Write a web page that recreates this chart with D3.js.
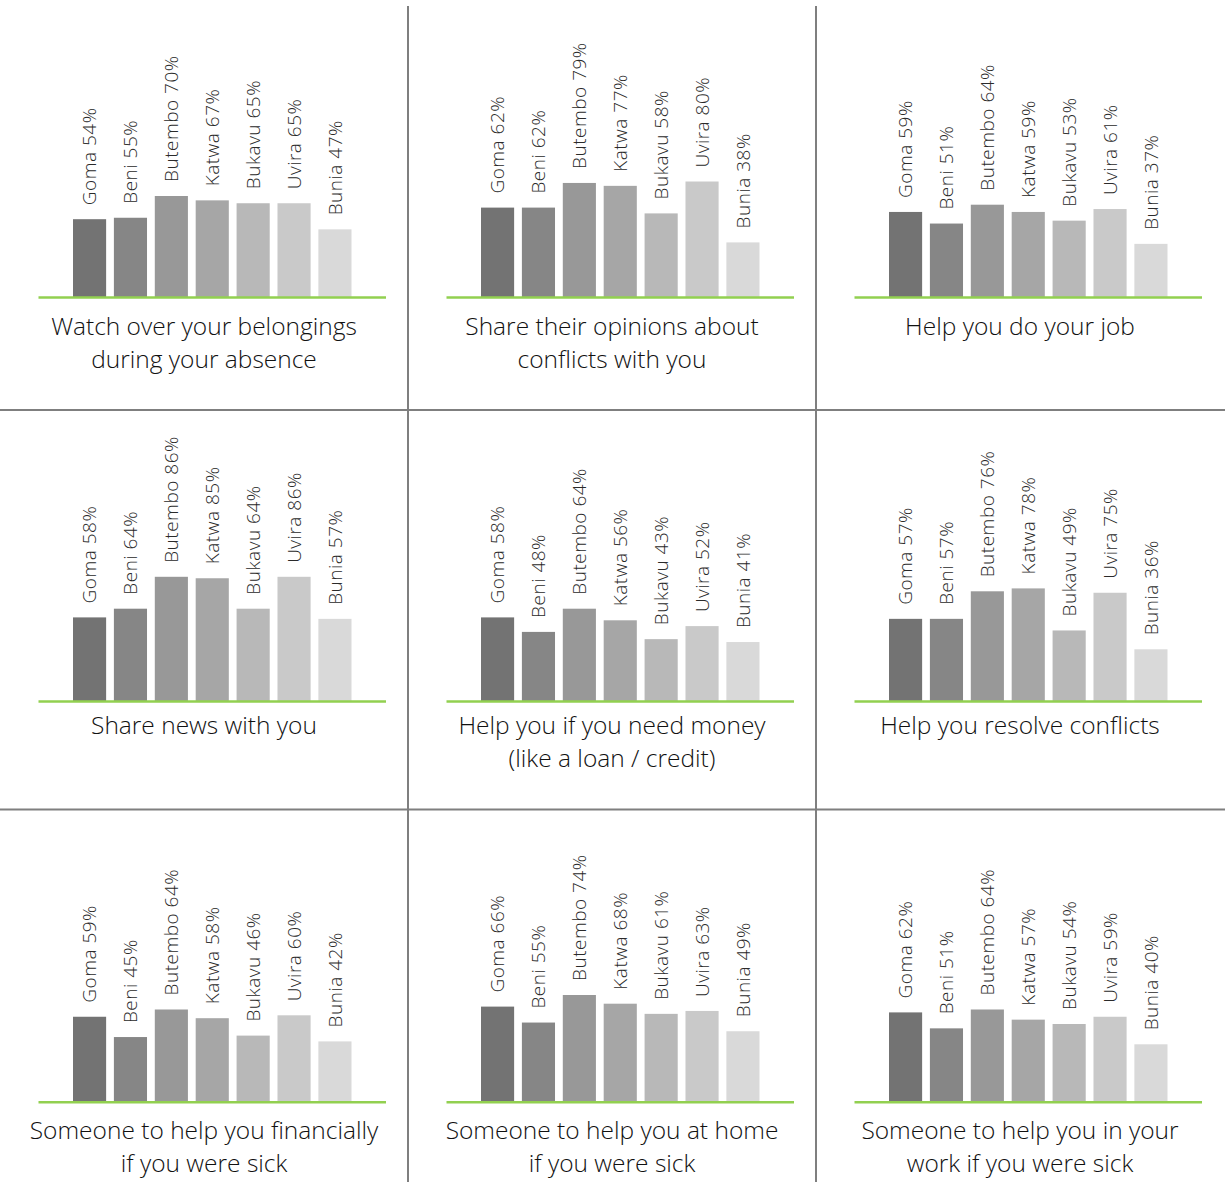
<!DOCTYPE html>
<html>
<head>
<meta charset="utf-8">
<script src="https://cdn.jsdelivr.net/npm/d3@7"></script>
<style>
  html, body { margin: 0; padding: 0; background: #ffffff; }
  svg { display: block; }
  .bar-label { font-family: "Open Sans", "Noto Sans", sans-serif; font-weight: 300; font-size: 19px; letter-spacing: 0.5px; fill: #2a2a2a; }
  .panel-title { font-family: "Open Sans", "Noto Sans", sans-serif; font-weight: 300; font-size: 24.5px; fill: #111111; }
</style>
</head>
<body>
<script>
// Cities surveyed
const cities = ["Goma", "Beni", "Butembo", "Katwa", "Bukavu", "Uvira", "Bunia"];

// Share (%) of respondents, per city, for each type of help
const watchBelongings   = [54, 55, 70, 67, 65, 65, 47];
const shareOpinions     = [62, 62, 79, 77, 58, 80, 38];
const helpJob           = [59, 51, 64, 59, 53, 61, 37];
const shareNews         = [58, 64, 86, 85, 64, 86, 57];
const helpMoney         = [58, 48, 64, 56, 43, 52, 41];
const resolveConflicts  = [57, 57, 76, 78, 49, 75, 36];
const sickFinancially   = [59, 45, 64, 58, 46, 60, 42];
const sickAtHome        = [66, 55, 74, 68, 61, 63, 49];
const sickAtWork        = [62, 51, 64, 57, 54, 59, 40];

// Panel titles (one entry per line)
const titles = [
  ["Watch over your belongings", "during your absence"],
  ["Share their opinions about", "conflicts with you"],
  ["Help you do your job"],
  ["Share news with you"],
  ["Help you if you need money", "(like a loan / credit)"],
  ["Help you resolve conflicts"],
  ["Someone to help you financially", "if you were sick"],
  ["Someone to help you at home", "if you were sick"],
  ["Someone to help you in your", "work if you were sick"]
];

const seriesList = [watchBelongings, shareOpinions, helpJob, shareNews, helpMoney,
                    resolveConflicts, sickFinancially, sickAtHome, sickAtWork];

const panels = seriesList.map((values, i) => ({ values, title: titles[i] }));

// Grey ramp, one shade per city
const barColors = ["#737373", "#868686", "#989898", "#a6a6a6", "#b8b8b8", "#c9c9c9", "#d9d9d9"];

const W = 1225, H = 1182;
const colStep = 408;
const baselines = [297.5, 701.5, 1102.3];
const titleBaselines = [335, 734, 1139];
const lineHeight = 33;

const svg = d3.select("body").append("svg")
  .attr("width", W).attr("height", H);

const x = d3.scaleBand().domain(cities).range([73, 351.5]).paddingInner(0.19).paddingOuter(0);
const h = d3.scaleLinear().domain([0, 100]).range([0, 145]);
const color = d3.scaleOrdinal().domain(cities).range(barColors);

panels.forEach((p, i) => {
  const col = i % 3, row = Math.floor(i / 3);
  const base = baselines[row];
  const g = svg.append("g").attr("transform", `translate(${col * colStep},0)`);

  const items = cities.map((c, k) => ({ city: c, value: p.values[k] }));

  g.selectAll("rect.bar").data(items).join("rect")
    .attr("class", "bar")
    .attr("x", d => x(d.city))
    .attr("width", x.bandwidth())
    .attr("y", d => base - h(d.value))
    .attr("height", d => h(d.value))
    .attr("fill", d => color(d.city));

  g.selectAll("text.bar-label").data(items).join("text")
    .attr("class", "bar-label")
    .attr("transform", d => `translate(${x(d.city) + x.bandwidth() / 2},${base - h(d.value) - 14}) rotate(-90)`)
    .attr("dy", "0.35em")
    .text(d => `${d.city} ${d.value}%`);

  // green baseline
  g.append("line")
    .attr("x1", 38.5).attr("x2", 386)
    .attr("y1", base).attr("y2", base)
    .attr("stroke", "#92d050").attr("stroke-width", 2.5);

  const t = g.append("text").attr("class", "panel-title")
    .attr("text-anchor", "middle")
    .attr("x", 204)
    .attr("y", titleBaselines[row]);
  p.title.forEach((line, li) => {
    t.append("tspan").attr("x", 204).attr("y", titleBaselines[row] + li * lineHeight).text(line);
  });
});

// grid separators
const sep = svg.append("g").attr("stroke", "#7f7f7f").attr("stroke-width", 2);
[408, 816].forEach(vx => sep.append("line").attr("x1", vx).attr("x2", vx).attr("y1", 6).attr("y2", H));
[410, 809.5].forEach(hy => sep.append("line").attr("x1", 0).attr("x2", W).attr("y1", hy).attr("y2", hy));
</script>
</body>
</html>
